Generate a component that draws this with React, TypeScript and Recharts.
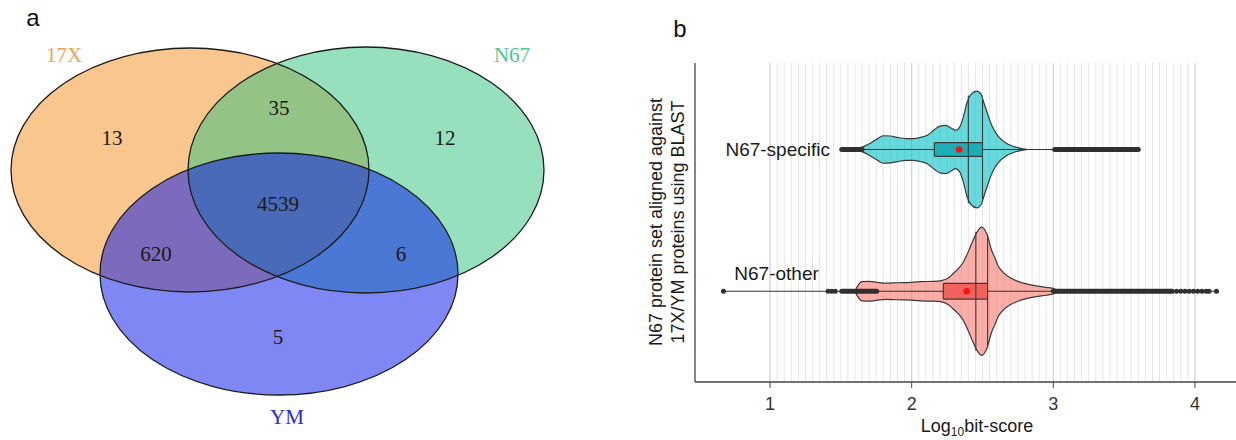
import React from "react";
import {
  ScatterChart,
  ComposedChart,
  Scatter,
  Area,
  XAxis,
  YAxis,
  CartesianGrid,
  ReferenceLine,
} from "recharts";

// ---------- panel a: Venn diagram (chart units = pixels of the 600x440 panel)
const vennSets = ["17X", "N67", "YM"];
const vennCenterX = [190, 366, 279];
const vennCenterY = [170, 170, 274];
const vennRadiusX = [179, 178, 179];
const vennRadiusY = [122, 123, 121];
const vennFills = ["#F38F1B", "#2DC17D", "#000FEB"];
const vennLabelX = [64, 512, 287];
const vennLabelY = [55, 55, 417];
const vennLabelColors = ["#F2A350", "#4CC98F", "#2828E0"];

const regionCounts = [13, 35, 12, 4539, 620, 6, 5];
const regionX = [112, 279, 445, 278, 156, 401, 278];
const regionY = [138, 108, 138, 204, 254, 254, 337];

// ---------- panel b: violins of log10 bit-score
const groups = ["N67-specific", "N67-other"];
const groupPos = [2, 1];
// [log10 bit-score, half width of violin]
const specificViolin: [number, number][] = [
  [1.59, 0], [1.62, 0.008], [1.66, 0.02], [1.7, 0.04], [1.75, 0.07],
  [1.8, 0.097], [1.85, 0.095], [1.9, 0.085], [1.96, 0.077], [2.01, 0.077],
  [2.06, 0.085], [2.11, 0.1], [2.16, 0.14], [2.2, 0.165], [2.24, 0.17],
  [2.28, 0.15], [2.31, 0.135], [2.34, 0.16], [2.365, 0.23], [2.39, 0.33],
  [2.42, 0.39], [2.46, 0.412], [2.49, 0.39], [2.51, 0.33], [2.54, 0.24],
  [2.57, 0.16], [2.61, 0.095], [2.66, 0.05], [2.71, 0.025], [2.76, 0.01],
  [2.82, 0],
];
const otherViolin: [number, number][] = [
  [1.6, 0], [1.62, 0.04], [1.65, 0.068], [1.7, 0.07], [1.76, 0.062],
  [1.82, 0.057], [1.9, 0.06], [1.97, 0.061], [2.06, 0.068], [2.15, 0.07],
  [2.21, 0.075], [2.26, 0.095], [2.29, 0.122], [2.33, 0.16], [2.364, 0.205],
  [2.4, 0.28], [2.425, 0.34], [2.46, 0.415], [2.494, 0.452], [2.53, 0.405],
  [2.565, 0.287], [2.59, 0.23], [2.61, 0.18], [2.65, 0.13], [2.69, 0.099],
  [2.75, 0.07], [2.81, 0.052], [2.88, 0.038], [2.95, 0.028], [3.01, 0.016],
  [3.04, 0],
];
const boxQ1 = [2.16, 2.223];
const boxQ3 = [2.5, 2.536];
const boxHalf = [0.048, 0.055];
const means = [2.336, 2.388];
const dataMin = [1.506, 0.671];
const dataMax = [3.6, 4.152];
const quantileAt = [[2.4, 2.5], [2.453, 2.536]];
const quantileHalf = [[0.38, 0.35], [0.42, 0.4]];
const outlierRuns = [
  [[1.506, 1.65], [3.01, 3.6]],
  [[1.506, 1.753], [3.0, 3.84]],
];
const outlierDots = [
  [3.19, 3.22, 3.25],
  [0.671, 1.41, 1.435, 1.46, 3.87, 3.9, 3.93, 3.96, 3.99, 4.02, 4.05, 4.08, 4.1, 4.152],
];
const labelV = [1.423, 1.046];
const labelY = [2, 1.125];
const xTicks = [1, 2, 3, 4];
const X_DOMAIN = [0.47, 4.29];
const gridMinor: number[] = [];
for (let i = 0; i <= 60; i++) gridMinor.push(+(1 + i * 0.05).toFixed(2));

const SANS = "'Liberation Sans', Arial, sans-serif";
const SERIF = "'Liberation Serif', 'Times New Roman', serif";
const OUTLINE = "#3a3a3a";

const vennData = vennSets.map((name, i) => ({
  name,
  x: vennCenterX[i],
  y: vennCenterY[i],
  rx: vennRadiusX[i],
  ry: vennRadiusY[i],
  fill: vennFills[i],
}));
const vennNames = vennSets.map((name, i) => ({
  text: name,
  x: vennLabelX[i],
  y: vennLabelY[i],
  color: vennLabelColors[i],
}));
const regionData = regionCounts.map((n, i) => ({ text: String(n), x: regionX[i], y: regionY[i] }));

// merged table for the range areas (violins and boxes)
const violinRows: any[] = [];
specificViolin.forEach(([v, w]) => violinRows.push({ v, spec: [groupPos[0] - w, groupPos[0] + w] }));
otherViolin.forEach(([v, w]) => violinRows.push({ v, other: [groupPos[1] - w, groupPos[1] + w] }));
groups.forEach((_, g) => {
  const key = g === 0 ? "specBox" : "otherBox";
  const c = groupPos[g];
  violinRows.push({ v: boxQ1[g], [key]: [c - boxHalf[g], c + boxHalf[g]] });
  violinRows.push({ v: boxQ3[g], [key]: [c - boxHalf[g], c + boxHalf[g]] });
});
violinRows.sort((a, b) => a.v - b.v);

const meanData = means.map((m, g) => ({ v: m, y: groupPos[g] }));
const dotData = outlierDots.flatMap((list, g) => list.map((v) => ({ v, y: groupPos[g] })));
const labelData = groups.map((name, g) => ({ v: labelV[g], y: labelY[g], text: name, g }));

// vertical grid positions through the x scale
const gridAt = (values: number[]) => (props: any) => {
  const scale = props?.xAxis?.scale;
  if (typeof scale === "function") return values.map((v) => scale(v));
  const { left, width } = props.offset;
  return values.map((v) => left + ((v - X_DOMAIN[0]) / (X_DOMAIN[1] - X_DOMAIN[0])) * width);
};

const VennFill = (p: any) => (
  <ellipse cx={p.cx} cy={p.cy} rx={p.payload.rx} ry={p.payload.ry} fill={p.payload.fill} fillOpacity={0.5} stroke="none" />
);
const VennEdge = (p: any) => (
  <ellipse cx={p.cx} cy={p.cy} rx={p.payload.rx} ry={p.payload.ry} fill="none" stroke="#1c1c1c" strokeWidth={1.3} />
);
const VennText = (p: any) => (
  <text x={p.cx} y={p.cy} textAnchor="middle" dominantBaseline="central" fontFamily={SERIF} fontSize={21} fill={p.payload.color || "#1a1a1a"}>
    {p.payload.text}
  </text>
);

function VennPanel() {
  return (
    <ScatterChart width={600} height={440} margin={{ top: 0, right: 0, bottom: 0, left: 0 }}>
      <XAxis type="number" dataKey="x" domain={[0, 600]} hide />
      <YAxis type="number" dataKey="y" domain={[0, 440]} reversed hide />
      <Scatter data={vennData} shape={VennFill} isAnimationActive={false} />
      <Scatter data={vennData} shape={VennEdge} isAnimationActive={false} />
      <Scatter data={regionData} shape={VennText} isAnimationActive={false} />
      <Scatter data={vennNames} shape={VennText} isAnimationActive={false} />
    </ScatterChart>
  );
}

function ViolinPanel() {
  const seg = (x1: number, x2: number, y1: number, y2: number) => [
    { x: x1, y: y1 },
    { x: x2, y: y2 },
  ];
  return (
    <ComposedChart width={636} height={440} data={violinRows} margin={{ top: 63, right: 0, bottom: 28, left: 94 }}>
      <CartesianGrid horizontal={false} verticalCoordinatesGenerator={gridAt(gridMinor)} stroke="#e6e6e6" />
      <CartesianGrid horizontal={false} verticalCoordinatesGenerator={gridAt(xTicks)} stroke="#d2d2d2" />
      <XAxis
        type="number"
        dataKey="v"
        domain={X_DOMAIN}
        ticks={xTicks}
        allowDataOverflow
        height={30}
        tickSize={6}
        tickMargin={9}
        tick={{ fontSize: 18, fill: "#333", fontFamily: SANS }}
        axisLine={{ stroke: "#444", strokeWidth: 1.3 }}
        tickLine={{ stroke: "#444" }}
      />
      <YAxis
        type="number"
        dataKey="y"
        domain={[0.36, 2.61]}
        allowDataOverflow
        width={1}
        tick={false}
        tickLine={false}
        axisLine={{ stroke: "#444", strokeWidth: 1.3 }}
      />
      <Area dataKey="spec" type="monotone" connectNulls fill="#00BFC4" fillOpacity={0.6} stroke={OUTLINE} strokeWidth={1.2} dot={false} activeDot={false} isAnimationActive={false} />
      <Area dataKey="other" type="monotone" connectNulls fill="#F8766D" fillOpacity={0.6} stroke={OUTLINE} strokeWidth={1.2} dot={false} activeDot={false} isAnimationActive={false} />
      <Area dataKey="specBox" type="linear" connectNulls fill="#1AAFB4" fillOpacity={1} stroke={OUTLINE} strokeWidth={1.2} dot={false} activeDot={false} isAnimationActive={false} />
      <Area dataKey="otherBox" type="linear" connectNulls fill="#F0625C" fillOpacity={1} stroke={OUTLINE} strokeWidth={1.2} dot={false} activeDot={false} isAnimationActive={false} />
      {groups.map((_, g) => (
        <ReferenceLine key={"tailL" + g} segment={seg(dataMin[g], boxQ1[g], groupPos[g], groupPos[g])} stroke="#333" strokeWidth={1} />
      ))}
      {groups.map((_, g) => (
        <ReferenceLine key={"tailR" + g} segment={seg(boxQ3[g], dataMax[g], groupPos[g], groupPos[g])} stroke="#333" strokeWidth={1} />
      ))}
      {groups.map((_, g) => (
        <ReferenceLine key={"edge" + g} segment={seg(boxQ1[g], boxQ1[g], groupPos[g] - boxHalf[g], groupPos[g] + boxHalf[g])} stroke={OUTLINE} strokeWidth={1.2} />
      ))}
      {quantileAt.flatMap((list, g) =>
        list.map((q, k) => (
          <ReferenceLine
            key={"q" + g + k}
            segment={seg(q, q, groupPos[g] - quantileHalf[g][k], groupPos[g] + quantileHalf[g][k])}
            stroke={OUTLINE}
            strokeWidth={1.1}
          />
        ))
      )}
      {outlierRuns.flatMap((runs, g) =>
        runs.map(([a, b], k) => (
          <ReferenceLine
            key={"run" + g + k}
            segment={seg(a, b, groupPos[g], groupPos[g])}
            stroke="#2f2f2f"
            strokeWidth={5}
            strokeLinecap="round"
          />
        ))
      )}
      <Scatter data={dotData} isAnimationActive={false} shape={(p: any) => <circle cx={p.cx} cy={p.cy} r={2.5} fill="#2f2f2f" />} />
      <Scatter data={meanData} isAnimationActive={false} shape={(p: any) => <circle cx={p.cx} cy={p.cy} r={3.3} fill="#FF1010" />} />
      <Scatter
        data={labelData}
        isAnimationActive={false}
        shape={(p: any) => (
          <text
            x={p.cx}
            y={p.cy}
            textAnchor={p.payload.g === 0 ? "end" : "middle"}
            dominantBaseline="central"
            fontFamily={SANS}
            fontSize={19}
            fill="#1a1a1a"
          >
            {p.payload.text}
          </text>
        )}
      />
    </ComposedChart>
  );
}

export default function App() {
  return (
    <div style={{ position: "absolute", left: 0, top: 0, width: 1236, height: 440, background: "#fff" }}>
      <div style={{ position: "absolute", left: 0, top: 0 }}>
        <VennPanel />
      </div>
      <div style={{ position: "absolute", left: 600, top: 0 }}>
        <ViolinPanel />
      </div>
      <svg width={1236} height={440} style={{ position: "absolute", left: 0, top: 0, pointerEvents: "none" }}>
        <text x={33} y={26} textAnchor="middle" fontFamily={SANS} fontSize={24} fill="#111">a</text>
        <text x={680} y={37} textAnchor="middle" fontFamily={SANS} fontSize={24} fill="#111">b</text>
        <g transform="translate(662, 222) rotate(-90)" fontFamily={SANS} fontSize={18} fill="#1a1a1a">
          <text x={0} y={0} textAnchor="middle">N67 protein set aligned against</text>
          <text x={0} y={22} textAnchor="middle">17X/YM proteins using BLAST</text>
        </g>
        <text x={977} y={432} textAnchor="middle" fontFamily={SANS} fontSize={18} fill="#1a1a1a">
          <tspan>Log</tspan>
          <tspan fontSize={12} dy={4}>10</tspan>
          <tspan dy={-4}>bit-score</tspan>
        </text>
      </svg>
    </div>
  );
}
